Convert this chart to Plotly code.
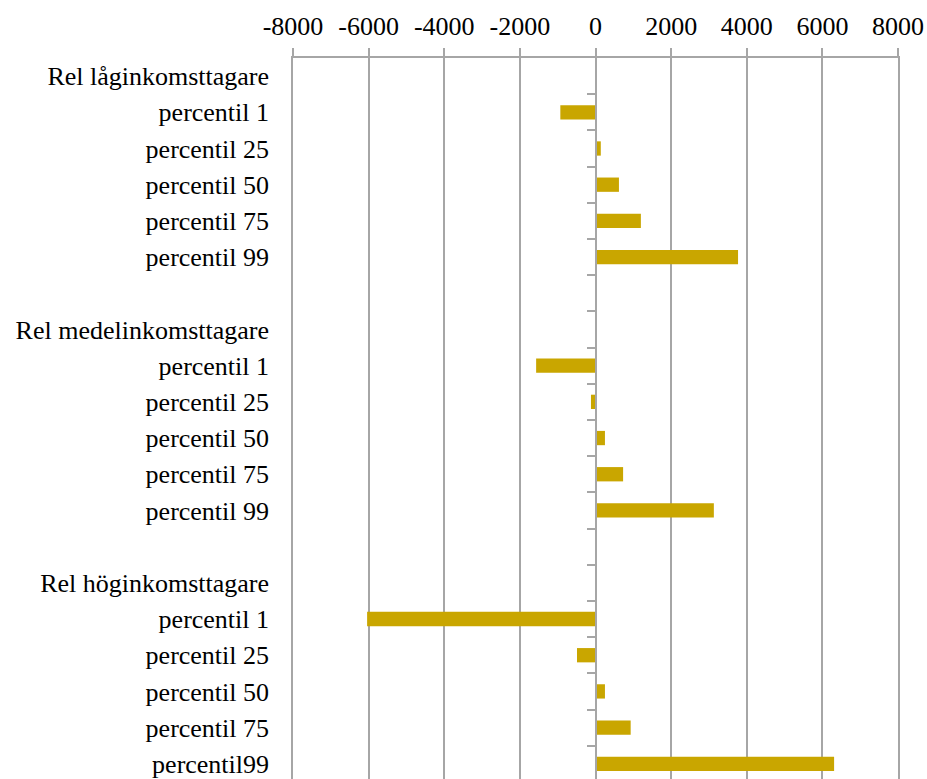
import plotly.graph_objects as go

labels = ["Rel låginkomsttagare", "percentil 1", "percentil 25", "percentil 50", "percentil 75", "percentil 99", "",
          "Rel medelinkomsttagare", "percentil 1", "percentil 25", "percentil 50", "percentil 75", "percentil 99", "",
          "Rel höginkomsttagare", "percentil 1", "percentil 25", "percentil 50", "percentil 75", "percentil99"]
values = [None, -930, 140, 620, 1200, 3770, None,
          None, -1570, -120, 250, 730, 3130, None,
          None, -6040, -490, 250, 930, 6310]
x_ticks = [-8000, -6000, -4000, -2000, 0, 2000, 4000, 6000, 8000]
x_ticktext = ["-8000", "-6000", "-4000", "-2000", "0", "2000", "4000", "6000", "8000"]

pos = list(range(len(labels)))
bounds = [i + 0.5 for i in range(len(labels) - 1)]
grid = "#A6A6A6"
font = dict(family="Liberation Serif, Times New Roman, serif", size=26, color="black")

fig = go.Figure()
fig.add_trace(go.Bar(x=values, y=pos, orientation="h", width=0.395,
                     marker=dict(color="#C9A600", line=dict(width=0)), showlegend=False))
fig.add_trace(go.Scatter(x=[None], y=[None], yaxis="y2", showlegend=False))

yr = [19.42, -0.5]
fig.update_layout(
    width=927, height=779,
    margin=dict(l=293, r=29, t=58, b=0),
    plot_bgcolor="white", paper_bgcolor="white",
    font=font,
    xaxis=dict(side="top", range=[-8000, 8000], tickvals=x_ticks, ticktext=x_ticktext,
               showgrid=True, gridcolor=grid, gridwidth=1.5,
               zeroline=True, zerolinecolor=grid, zerolinewidth=1.5,
               showline=True, linecolor=grid, linewidth=1.5,
               ticks="outside", ticklen=8, tickcolor=grid, tickwidth=1.5,
               ticklabelstandoff=3, tickfont=font, fixedrange=True),
    yaxis=dict(range=yr, tickvals=pos, ticktext=labels, showgrid=False, zeroline=False,
               showline=True, linecolor=grid, linewidth=1.5, mirror=True,
               ticks="", ticklabelstandoff=17, tickfont=font),
    yaxis2=dict(overlaying="y", anchor="free", position=0.5, range=yr,
                tickvals=bounds, showticklabels=False, showgrid=False, zeroline=False,
                showline=True, linecolor=grid, linewidth=1.5,
                ticks="outside", ticklen=8, tickcolor=grid, tickwidth=1.5),
)

fig.write_html("out.html")
